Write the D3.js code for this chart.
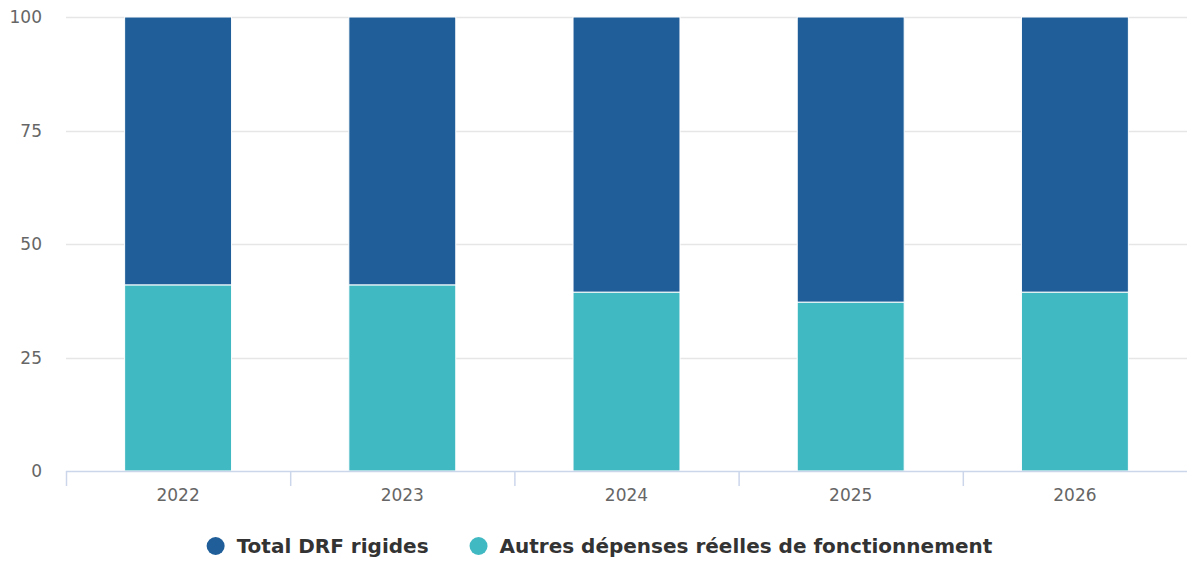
<!DOCTYPE html>
<html>
<head>
<meta charset="utf-8">
<script src="https://cdn.jsdelivr.net/npm/d3@7"></script>
<style>
  html, body { margin: 0; padding: 0; background: #fff; }
  svg { display: block; font-family: "DejaVu Sans", sans-serif; }
</style>
</head>
<body>
<svg id="chart" width="1187" height="561"></svg>
<script>
const categories = ["2022", "2023", "2024", "2025", "2026"];
const seriesNames = ["Total DRF rigides", "Autres dépenses réelles de fonctionnement"];
const totalDrfRigides = [59.0, 59.0, 60.6, 62.8, 60.6];
const autresDepenses = [41.0, 41.0, 39.4, 37.2, 39.4];
const yTicks = [0, 25, 50, 75, 100];
const colors = ["#1f5e99", "#41b9c2"];

const W = 1187, H = 561;
const margin = { left: 66, right: 0, top: 17, bottom: 90 };
const svg = d3.select("#chart");

const x = d3.scaleBand().domain(categories)
  .range([margin.left, W - margin.right])
  .paddingInner(0.523).paddingOuter(0.2615);
const xOuter = d3.scaleBand().domain(categories)
  .range([margin.left, W - margin.right]).padding(0);
const y = d3.scaleLinear().domain([0, 100]).range([H - margin.bottom, margin.top]);

// gridlines
svg.append("g").selectAll("line").data(yTicks.filter(d => d > 0)).join("line")
  .attr("x1", margin.left).attr("x2", W - margin.right)
  .attr("y1", d => Math.round(y(d)) + 0.5).attr("y2", d => Math.round(y(d)) + 0.5)
  .attr("stroke", "#e6e6e6").attr("stroke-width", 1.5);

// y labels
svg.append("g").selectAll("text").data(yTicks).join("text")
  .attr("x", 42).attr("y", d => y(d) + 6)
  .attr("text-anchor", "end")
  .attr("font-size", 17).attr("fill", "#666666")
  .text(d => d);

// stacked data (percent)
const rows = categories.map((c, i) => ({ cat: c, a: autresDepenses[i], t: totalDrfRigides[i] }));
const stack = d3.stack().keys(["a", "t"]).offset(d3.stackOffsetExpand);
const layers = stack(rows);
const layerColor = { a: colors[1], t: colors[0] };

svg.append("g").selectAll("g").data(layers).join("g")
  .attr("fill", d => layerColor[d.key])
  .selectAll("rect").data(d => d).join("rect")
  .attr("x", d => x(d.data.cat))
  .attr("width", x.bandwidth())
  .attr("y", d => y(d[1] * 100))
  .attr("height", d => y(d[0] * 100) - y(d[1] * 100))
  .attr("stroke", "#ffffff").attr("stroke-width", 1);

// x axis
const xAxisY = y(0);
const axisG = svg.append("g");
axisG.append("line")
  .attr("x1", margin.left).attr("x2", W)
  .attr("y1", xAxisY + 0.5).attr("y2", xAxisY + 0.5)
  .attr("stroke", "#ccd6eb").attr("stroke-width", 1.5);
axisG.selectAll("line.tick").data(categories).join("line")
  .attr("class", "tick")
  .attr("x1", d => xOuter(d) + 0.5).attr("x2", d => xOuter(d) + 0.5)
  .attr("y1", xAxisY).attr("y2", xAxisY + 15)
  .attr("stroke", "#ccd6eb").attr("stroke-width", 1.5);
axisG.selectAll("text").data(categories).join("text")
  .attr("x", d => x(d) + x.bandwidth() / 2)
  .attr("y", xAxisY + 30)
  .attr("text-anchor", "middle")
  .attr("font-size", 17).attr("fill", "#666666")
  .text(d => d);

// legend
const legend = svg.append("g");
const legendY = 546;
const items = seriesNames.map((n, i) => ({ name: n, color: colors[i] }));
const itemG = legend.selectAll("g").data(items).join("g");
itemG.append("circle").attr("r", 9).attr("cy", legendY).attr("fill", d => d.color);
const texts = itemG.append("text")
  .attr("y", legendY + 7)
  .attr("font-size", 20).attr("font-weight", "bold").attr("fill", "#333333")
  .text(d => d.name);
const widths = [];
texts.each(function () { widths.push(this.getComputedTextLength()); });
const symW = 18, symGap = 12, itemGap = 41;
const total = widths.reduce((s, w) => s + symW + symGap + w, 0) + itemGap * (widths.length - 1);
let start = 599.5 - total / 2;
itemG.each(function (d, i) {
  const g = d3.select(this);
  g.select("circle").attr("cx", start + symW / 2);
  g.select("text").attr("x", start + symW + symGap);
  start += symW + symGap + widths[i] + itemGap;
});
</script>
</body>
</html>
